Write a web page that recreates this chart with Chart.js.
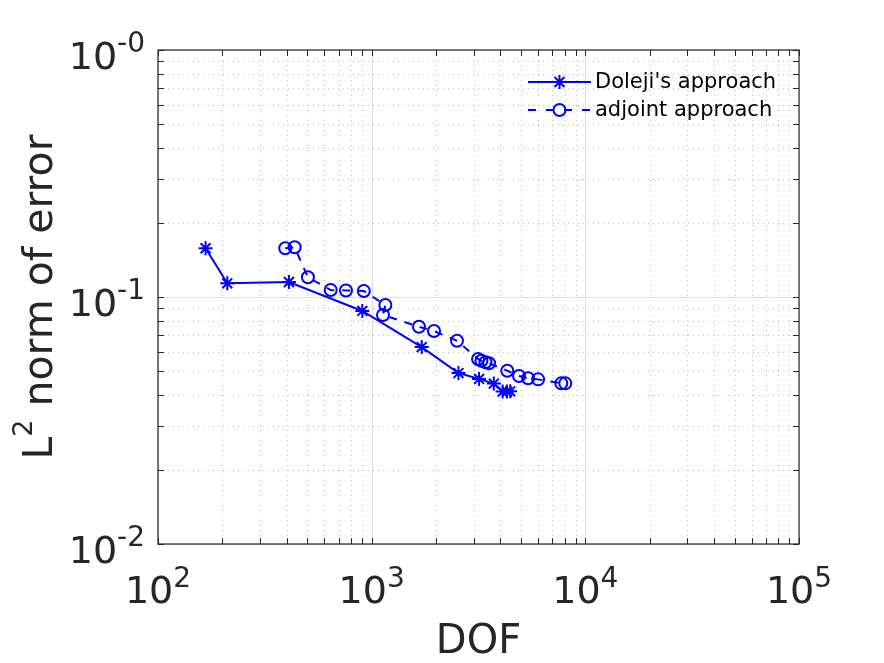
<!DOCTYPE html>
<html>
<head>
<meta charset="utf-8">
<title>L2 norm of error vs DOF</title>
<script src="https://cdn.jsdelivr.net/npm/chart.js@4.4.1/dist/chart.umd.min.js"></script>
<style>
  html, body { margin: 0; padding: 0; background: #fff; }
  #wrap { width: 884px; height: 663px; position: relative; }
</style>
</head>
<body>
<div id="wrap"><canvas id="errChart"></canvas></div>
<script>
// values
const dofDoleji = [167, 211, 410, 904, 1715, 2548, 3181, 3730, 4100, 4300, 4450];
const errDoleji = [0.1575, 0.1136, 0.115, 0.0878, 0.0627, 0.0492, 0.0466, 0.0446, 0.0414, 0.0414, 0.0415];

const dofAdjoint = [394, 436, 503, 643, 758, 919, 1159, 1130, 1665, 1958, 2509,
                    3147, 3265, 3409, 3544, 4312, 4897, 5396, 6011, 7719, 8057];
const errAdjoint = [0.1575, 0.159, 0.1202, 0.1067, 0.1063, 0.1057, 0.0928, 0.0846, 0.0758, 0.0728, 0.0665,
                    0.0561, 0.0552, 0.0544, 0.0539, 0.0503, 0.0479, 0.0469, 0.0464, 0.0447, 0.0447];

const seriesNames = ["Doleji's approach", 'adjoint approach'];

// tick labels: base 10 with exponent
const xTickValues = [1e2, 1e3, 1e4, 1e5];
const xTickExps = ['2', '3', '4', '5'];
const yTickValues = [1, 0.1, 0.01];
const yTickExps = ['-0', '-1', '-2'];

const xTitle = 'DOF';
const yTitle = ['L', '2', ' norm of error'];

const BLUE = '#0000ff';
const AXIS = '#262626';
const FONT = "'DejaVu Sans', sans-serif";

function toPoints(xs, ys) {
    return xs.map((v, i) => ({ x: v, y: ys[i] }));
}

// minor positions 2..9 inside each decade
function minorValues(decades) {
    const out = [];
    for (let i = 0; i < decades.length - 1; i++) {
        const lo = Math.min(decades[i], decades[i + 1]);
        for (let k = 2; k <= 9; k++) out.push(lo * k);
    }
    return out;
}

function drawStar(ctx, x, y, r) {
    ctx.beginPath();
    for (let k = 0; k < 4; k++) {
        const a = k * Math.PI / 4;
        ctx.moveTo(x - Math.cos(a) * r, y - Math.sin(a) * r);
        ctx.lineTo(x + Math.cos(a) * r, y + Math.sin(a) * r);
    }
    ctx.stroke();
}

// MATLAB-like axes: grid, box, inward ticks, labels, legend
const matlabAxes = {
    id: 'matlabAxes',
    beforeDatasetsDraw(chart) {
        const { ctx, chartArea: a, scales: { x, y } } = chart;
        ctx.save();
        ctx.lineWidth = 1;

        // minor grid (dotted)
        ctx.strokeStyle = '#bdbdbd';
        ctx.setLineDash([1, 4]);
        minorValues(xTickValues).forEach(v => {
            const px = Math.round(x.getPixelForValue(v)) + 0.5;
            ctx.beginPath(); ctx.moveTo(px, a.top); ctx.lineTo(px, a.bottom); ctx.stroke();
        });
        minorValues(yTickValues).forEach(v => {
            const py = Math.round(y.getPixelForValue(v)) + 0.5;
            ctx.beginPath(); ctx.moveTo(a.left, py); ctx.lineTo(a.right, py); ctx.stroke();
        });

        // major grid (solid, light)
        ctx.setLineDash([]);
        ctx.strokeStyle = '#dedede';
        xTickValues.forEach(v => {
            const px = Math.round(x.getPixelForValue(v)) + 0.5;
            ctx.beginPath(); ctx.moveTo(px, a.top); ctx.lineTo(px, a.bottom); ctx.stroke();
        });
        yTickValues.forEach(v => {
            const py = Math.round(y.getPixelForValue(v)) + 0.5;
            ctx.beginPath(); ctx.moveTo(a.left, py); ctx.lineTo(a.right, py); ctx.stroke();
        });
        ctx.restore();
    },
    afterDraw(chart) {
        const { ctx, chartArea: a, scales: { x, y } } = chart;
        ctx.save();

        // box + inward ticks
        ctx.strokeStyle = AXIS;
        ctx.lineWidth = 1.2;
        ctx.strokeRect(a.left, a.top, a.right - a.left, a.bottom - a.top);
        const tl = 6;
        ctx.lineWidth = 1;
        xTickValues.concat(minorValues(xTickValues)).forEach(v => {
            const px = Math.round(x.getPixelForValue(v)) + 0.5;
            ctx.beginPath();
            ctx.moveTo(px, a.bottom); ctx.lineTo(px, a.bottom - tl);
            ctx.moveTo(px, a.top); ctx.lineTo(px, a.top + tl);
            ctx.stroke();
        });
        yTickValues.concat(minorValues(yTickValues)).forEach(v => {
            const py = Math.round(y.getPixelForValue(v)) + 0.5;
            ctx.beginPath();
            ctx.moveTo(a.left, py); ctx.lineTo(a.left + tl, py);
            ctx.moveTo(a.right, py); ctx.lineTo(a.right - tl, py);
            ctx.stroke();
        });

        // tick labels
        ctx.fillStyle = AXIS;
        ctx.textBaseline = 'alphabetic';
        ctx.textAlign = 'left';
        const baseFont = '38px ' + FONT;
        const expFont = '28px ' + FONT;
        xTickValues.forEach((v, i) => {
            const px = x.getPixelForValue(v);
            ctx.font = baseFont;
            const w1 = ctx.measureText('10').width;
            ctx.font = expFont;
            const w2 = ctx.measureText(xTickExps[i]).width;
            const start = px - (w1 + w2) / 2;
            ctx.font = baseFont;
            ctx.fillText('10', start, a.bottom + 59);
            ctx.font = expFont;
            ctx.fillText(xTickExps[i], start + w1, a.bottom + 43);
        });
        yTickValues.forEach((v, i) => {
            const py = y.getPixelForValue(v);
            ctx.font = baseFont;
            const w1 = ctx.measureText('10').width;
            ctx.font = expFont;
            const w2 = ctx.measureText(yTickExps[i]).width;
            const start = a.left - 13 - (w1 + w2);
            ctx.font = baseFont;
            ctx.fillText('10', start, py + 19);
            ctx.font = expFont;
            ctx.fillText(yTickExps[i], start + w1, py + 2);
        });

        // axis titles
        ctx.font = '40px ' + FONT;
        ctx.textAlign = 'center';
        ctx.fillText(xTitle, (a.left + a.right) / 2, 653);

        ctx.save();
        ctx.translate(52, (a.top + a.bottom) / 2);
        ctx.rotate(-Math.PI / 2);
        ctx.textAlign = 'left';
        const big = '41px ' + FONT, small = '27px ' + FONT;
        ctx.font = big;
        const wa = ctx.measureText(yTitle[0]).width;
        const wc = ctx.measureText(yTitle[2]).width;
        ctx.font = small;
        const wb = ctx.measureText(yTitle[1]).width;
        let sx = -(wa + wb + wc) / 2;
        ctx.font = big; ctx.fillText(yTitle[0], sx, 0);
        ctx.font = small; ctx.fillText(yTitle[1], sx + wa, -20);
        ctx.font = big; ctx.fillText(yTitle[2], sx + wa + wb, 0);
        ctx.restore();

        // legend (no box)
        const lx0 = 528, lx1 = 591, mx = 559.5;
        const rows = [82, 110];
        ctx.strokeStyle = BLUE;
        ctx.lineWidth = 2;
        ctx.beginPath(); ctx.moveTo(lx0, rows[0]); ctx.lineTo(lx1, rows[0]); ctx.stroke();
        drawStar(ctx, mx, rows[0], 7);
        ctx.setLineDash([8, 10]);
        ctx.beginPath(); ctx.moveTo(lx0, rows[1]); ctx.lineTo(lx1, rows[1]); ctx.stroke();
        ctx.setLineDash([]);
        ctx.beginPath(); ctx.arc(mx, rows[1], 6, 0, Math.PI * 2); ctx.stroke();

        ctx.fillStyle = '#000';
        ctx.font = '21px ' + FONT;
        ctx.textAlign = 'left';
        ctx.textBaseline = 'middle';
        seriesNames.forEach((name, i) => ctx.fillText(name, 595, rows[i] + 1));

        ctx.restore();
    }
};

const chart = new Chart(document.getElementById('errChart').getContext('2d'), {
    type: 'scatter',
    data: {
        datasets: [
            {
                label: seriesNames[0],
                data: toPoints(dofDoleji, errDoleji),
                showLine: true,
                borderColor: BLUE,
                borderWidth: 2,
                pointStyle: 'star',
                pointRadius: 7,
                pointBorderWidth: 2,
                pointBorderColor: BLUE,
                pointBackgroundColor: 'rgba(0,0,0,0)'
            },
            {
                label: seriesNames[1],
                data: toPoints(dofAdjoint, errAdjoint),
                showLine: true,
                borderColor: BLUE,
                borderWidth: 2,
                borderDash: [8, 8],
                pointStyle: 'circle',
                pointRadius: 6,
                pointBorderWidth: 2,
                pointBorderColor: BLUE,
                pointBackgroundColor: 'rgba(0,0,0,0)'
            }
        ]
    },
    options: {
        responsive: true,
        maintainAspectRatio: false,
        animation: false,
        events: [],
        layout: { padding: { left: 158, top: 50, right: 85, bottom: 119 } },
        scales: {
            x: { type: 'logarithmic', min: 100, max: 100000, display: false },
            y: { type: 'logarithmic', min: 0.01, max: 1, display: false }
        },
        plugins: {
            legend: { display: false },
            tooltip: { enabled: false }
        }
    },
    plugins: [matlabAxes]
});
</script>
</body>
</html>
